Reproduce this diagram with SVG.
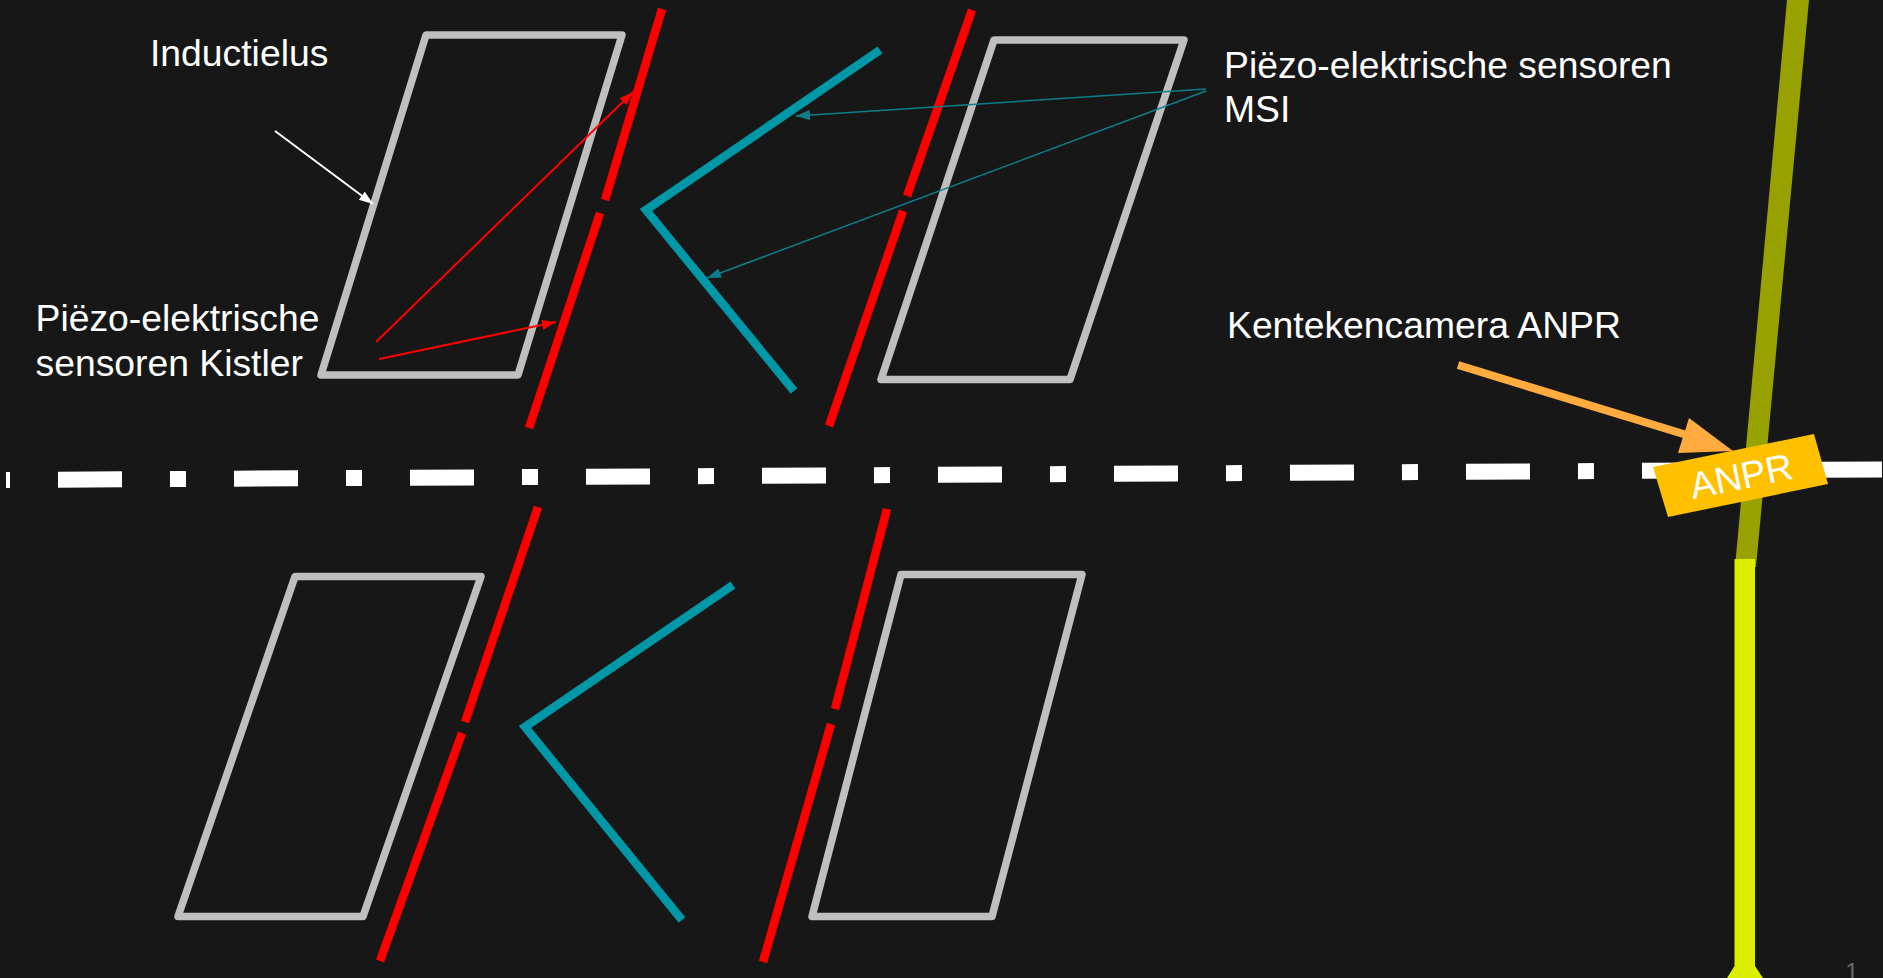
<svg xmlns="http://www.w3.org/2000/svg" width="1883" height="978" viewBox="0 0 1883 978">
<style>
.loop{fill:none;stroke:#bfbfbf;stroke-width:7.5;stroke-linejoin:round}
.sensor{fill:none;stroke:#ff0000;stroke-width:8.5}
.msi{fill:none;stroke:#0097a7;stroke-width:8.5}
.t{font-family:"Liberation Sans",Arial,sans-serif;font-size:37.3px;fill:#ffffff}
.thin{fill:none;stroke-width:2}
.thin2{fill:none;stroke-width:1.5}
</style>
<defs>
<marker id="aw" markerUnits="userSpaceOnUse" markerWidth="16" markerHeight="12" refX="14" refY="5" orient="auto"><path d="M0 0L14 5L0 10z" fill="#ffffff"/></marker>
<marker id="ar" markerUnits="userSpaceOnUse" markerWidth="16" markerHeight="12" refX="14" refY="5" orient="auto"><path d="M0 0L14 5L0 10z" fill="#ff0000"/></marker>
<marker id="at" markerUnits="userSpaceOnUse" markerWidth="16" markerHeight="12" refX="14" refY="5" orient="auto"><path d="M0 0L14 5L0 10z" fill="#0e7f8a"/></marker>
</defs>
<rect width="1883" height="978" fill="#171717"/>
<g id="centerline"><path d="M6 480L1883 469.5" fill="none" stroke="#ffffff" stroke-width="16" stroke-dasharray="16 48 64 48" stroke-dashoffset="12"/></g>
<g id="loops">
<polygon id="loop-top-left" class="loop" points="426,35 622,35 518,375 321,375"/>
<polygon id="loop-top-right" class="loop" points="994,40 1184,40 1070,379.5 881,379.5"/>
<polygon id="loop-bottom-left" class="loop" points="295,576.5 481,576.5 363,916.5 178,916.5"/>
<polygon id="loop-bottom-right" class="loop" points="901,574.5 1082,574.5 992,916.5 812,916.5"/>
</g>
<g id="kistler">
<path class="sensor" d="M662 9L605 200"/>
<path class="sensor" d="M600 213L529 428"/>
<path class="sensor" d="M972 10L907 196"/>
<path class="sensor" d="M903 211L829 426"/>
<path class="sensor" d="M538 507L465 722"/>
<path class="sensor" d="M462 733L380 961"/>
<path class="sensor" d="M887 509L835 709"/>
<path class="sensor" d="M831 724L763 962"/>
</g>
<g id="msi">
<path class="msi" d="M880 50L646 210L794 391"/>
<path class="msi" d="M733 585L525 727L682 920"/>
</g>
<g id="camera">
<polygon points="1787,0 1809,0 1756,567 1735,567" fill="#97a100"/>
<polygon points="1734.5,559 1755,559 1755,966 1763,978 1727,978 1734.5,966" fill="#dcee00"/>
<g id="anpr"><polygon points="1653,467 1814,434 1828,484 1668,517" fill="#ffc000"/>
<text class="t" x="1741" y="489" text-anchor="middle" transform="rotate(-11.5 1741 475)">ANPR</text></g>
</g>
<g id="connectors">
<path class="thin" stroke="#ffffff" marker-end="url(#aw)" d="M275 131L373 204"/>
<path class="thin" stroke="#ff0000" marker-end="url(#ar)" d="M376 342L633 92"/>
<path class="thin" stroke="#ff0000" marker-end="url(#ar)" d="M379 359L556 322"/>
<path class="thin2" stroke="#0e7f8a" marker-end="url(#at)" d="M1206 89L796 116"/>
<path class="thin2" stroke="#0e7f8a" marker-end="url(#at)" d="M1206 91L707 278"/>
<path d="M1458 365L1690 436" fill="none" stroke="#ffab40" stroke-width="8"/>
<polygon points="1733,451 1689,418 1678,453" fill="#ffab40"/>
</g>
<g id="labels">
<text class="t" x="150" y="66">Inductielus</text>
<text class="t" x="35.5" y="331">Piëzo-elektrische</text>
<text class="t" x="35.5" y="376">sensoren Kistler</text>
<text class="t" x="1224" y="78">Piëzo-elektrische sensoren</text>
<text class="t" x="1224" y="122">MSI</text>
<text class="t" x="1227" y="338">Kentekencamera ANPR</text>
<text x="1852" y="980" font-family="Liberation Sans,Arial,sans-serif" font-size="24" fill="#6a6a6a" text-anchor="middle">1</text>
</g>
</svg>
